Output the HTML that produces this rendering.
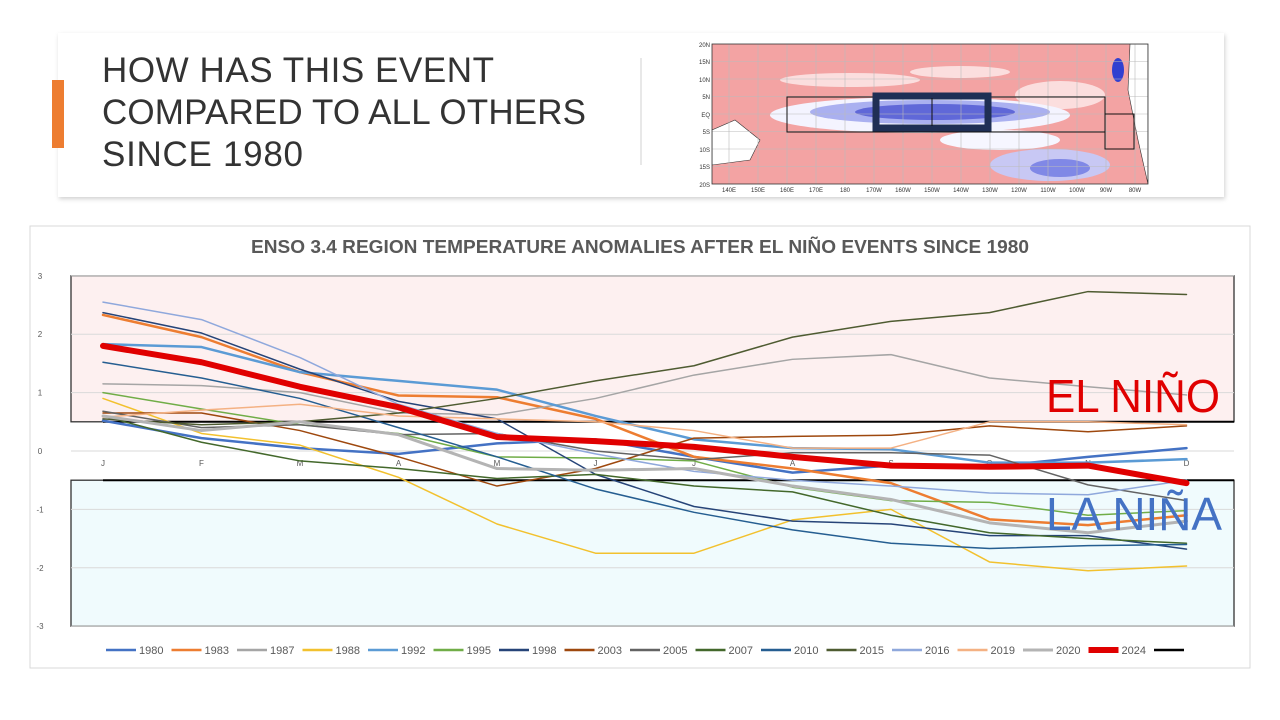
<!DOCTYPE html>
<html><head><meta charset="utf-8">
<style>
html,body{margin:0;padding:0;background:#fff;width:1280px;height:720px;overflow:hidden;font-family:"Liberation Sans",sans-serif}
svg{display:block}
</style></head>
<body>
<svg id="root" width="1280" height="720" viewBox="0 0 1280 720" xmlns="http://www.w3.org/2000/svg">
<defs>
<filter id="sh" x="-5%" y="-10%" width="110%" height="130%"><feDropShadow dx="1" dy="2" stdDeviation="2" flood-color="#000" flood-opacity="0.18"/></filter>
<clipPath id="mapclip"><rect x="712" y="44" width="436" height="140"/></clipPath>
</defs>
<rect x="58" y="33" width="1166" height="164" fill="#fff" filter="url(#sh)"/>
<rect x="52" y="80" width="12" height="68" fill="#ed7d31"/>
<g font-size="35" fill="#333" font-family="Liberation Sans, sans-serif" textLength="480">
<text x="102" y="82" textLength="392">HOW HAS THIS EVENT</text>
<text x="102" y="124" textLength="484">COMPARED TO ALL OTHERS</text>
<text x="102" y="166" textLength="201">SINCE 1980</text>
</g>
<line x1="641" y1="58" x2="641" y2="165" stroke="#d0d0d0"/>
<g id="map">
<rect x="712" y="44" width="436" height="140" fill="#f3a3a3"/>
<g clip-path="url(#mapclip)">
<ellipse cx="850" cy="80" rx="70" ry="7" fill="#fbdede"/>
<ellipse cx="960" cy="72" rx="50" ry="6" fill="#fbdede"/>
<ellipse cx="1060" cy="95" rx="45" ry="14" fill="#fbdede"/>
<ellipse cx="920" cy="115" rx="150" ry="18" fill="#f4f4ff"/>
<ellipse cx="930" cy="112" rx="120" ry="12" fill="#aab0f0"/>
<ellipse cx="935" cy="112" rx="80" ry="8" fill="#6068d8"/>
<ellipse cx="1050" cy="165" rx="60" ry="16" fill="#c8c8f4"/>
<ellipse cx="1060" cy="168" rx="30" ry="9" fill="#8088e6"/>
<ellipse cx="1000" cy="140" rx="60" ry="10" fill="#f6f6ff"/>
<ellipse cx="1118" cy="70" rx="6" ry="12" fill="#3040d0"/>
<path d="M712 130 L735 120 L760 140 L750 160 L712 165Z" fill="#fff" stroke="#333" stroke-width="0.6"/>
<path d="M1130 44 L1148 44 L1148 184 L1138 140 L1128 90Z" fill="#fff" stroke="#333" stroke-width="0.6"/>
</g>
<g stroke="#bbb" stroke-width="0.6">
<line x1="712" y1="61.5" x2="1148" y2="61.5"/><line x1="712" y1="79" x2="1148" y2="79"/><line x1="712" y1="96.5" x2="1148" y2="96.5"/><line x1="712" y1="114" x2="1148" y2="114"/><line x1="712" y1="131.5" x2="1148" y2="131.5"/><line x1="712" y1="149" x2="1148" y2="149"/><line x1="712" y1="166.5" x2="1148" y2="166.5"/>
<line x1="729" y1="44" x2="729" y2="184"/><line x1="758" y1="44" x2="758" y2="184"/><line x1="787" y1="44" x2="787" y2="184"/><line x1="816" y1="44" x2="816" y2="184"/><line x1="845" y1="44" x2="845" y2="184"/><line x1="874" y1="44" x2="874" y2="184"/><line x1="903" y1="44" x2="903" y2="184"/><line x1="932" y1="44" x2="932" y2="184"/><line x1="961" y1="44" x2="961" y2="184"/><line x1="990" y1="44" x2="990" y2="184"/><line x1="1019" y1="44" x2="1019" y2="184"/><line x1="1048" y1="44" x2="1048" y2="184"/><line x1="1077" y1="44" x2="1077" y2="184"/><line x1="1106" y1="44" x2="1106" y2="184"/><line x1="1135" y1="44" x2="1135" y2="184"/>
</g>
<rect x="712" y="44" width="436" height="140" fill="none" stroke="#333" stroke-width="0.8"/>
<rect x="787" y="97" width="318" height="35" fill="none" stroke="#111" stroke-width="1"/>
<rect x="1105" y="114" width="29" height="35" fill="none" stroke="#111" stroke-width="1"/>
<rect x="876" y="96" width="112" height="32" fill="none" stroke="#1f2f55" stroke-width="7"/>
<line x1="932" y1="98" x2="932" y2="126" stroke="#111"/>
<g font-size="6" fill="#333" text-anchor="end">
<text x="710" y="47">20N</text><text x="710" y="64">15N</text><text x="710" y="82">10N</text><text x="710" y="99">5N</text><text x="710" y="117">EQ</text><text x="710" y="134">5S</text><text x="710" y="152">10S</text><text x="710" y="169">15S</text><text x="710" y="187">20S</text>
</g>
<g font-size="6" fill="#333" text-anchor="middle">
<text x="729" y="192">140E</text><text x="758" y="192">150E</text><text x="787" y="192">160E</text><text x="816" y="192">170E</text><text x="845" y="192">180</text><text x="874" y="192">170W</text><text x="903" y="192">160W</text><text x="932" y="192">150W</text><text x="961" y="192">140W</text><text x="990" y="192">130W</text><text x="1019" y="192">120W</text><text x="1048" y="192">110W</text><text x="1077" y="192">100W</text><text x="1106" y="192">90W</text><text x="1135" y="192">80W</text>
</g>
</g>

<rect x="30" y="226" width="1220" height="442" fill="#fff" stroke="#d9d9d9"/>
<text x="640" y="253" text-anchor="middle" font-size="18" font-weight="bold" fill="#595959" textLength="778" lengthAdjust="spacingAndGlyphs">ENSO 3.4 REGION TEMPERATURE ANOMALIES AFTER EL NIÑO EVENTS SINCE 1980</text>
<g id="chart"></g>
</svg>
<script>
const months = ["J","F","M","A","M","J","J","A","S","O","N","D"];
const yTicks = [3,2,1,0,-1,-2,-3];
const seriesNames = ["1980","1983","1987","1988","1992","1995","1998","2003","2005","2007","2010","2015","2016","2019","2020","2024"];
const seriesColors = ["#4472c4","#ed7d31","#a5a5a5","#f2c12e","#5b9bd5","#70ad47","#264478","#9e480e","#636363","#43682b","#255e91","#4e5b31","#8fa8dc","#f4b183","#b4b4b4","#e00000"];
const seriesWidths = [2.5,2.5,1.5,1.5,2.5,1.5,1.5,1.5,1.5,1.5,1.5,1.5,1.5,1.5,3,6];
const v1980 = [0.52,0.22,0.05,-0.05,0.13,0.2,-0.1,-0.37,-0.25,-0.27,-0.1,0.05];
const v1983 = [2.33,1.95,1.35,0.95,0.92,0.55,-0.1,-0.3,-0.55,-1.17,-1.27,-1.1];
const v1987 = [1.15,1.12,1.0,0.65,0.62,0.9,1.3,1.57,1.65,1.25,1.1,0.96];
const v1988 = [0.9,0.3,0.1,-0.45,-1.25,-1.75,-1.75,-1.18,-1.0,-1.9,-2.05,-1.97];
const v1992 = [1.83,1.78,1.35,1.2,1.05,0.6,0.2,0.05,0.03,-0.2,-0.2,-0.14];
const v1995 = [1.0,0.72,0.45,0.3,-0.1,-0.12,-0.17,-0.62,-0.85,-0.88,-1.1,-1.02];
const v1998 = [2.37,2.02,1.4,0.85,0.55,-0.4,-0.95,-1.2,-1.25,-1.45,-1.45,-1.68];
const v2003 = [0.65,0.65,0.35,-0.1,-0.6,-0.3,0.22,0.25,0.27,0.43,0.33,0.43];
const v2005 = [0.68,0.4,0.45,0.28,0.3,0.0,-0.15,-0.03,-0.03,-0.07,-0.58,-0.85];
const v2007 = [0.6,0.15,-0.17,-0.3,-0.47,-0.4,-0.6,-0.7,-1.1,-1.4,-1.5,-1.58];
const v2010 = [1.52,1.25,0.9,0.4,-0.1,-0.65,-1.05,-1.35,-1.58,-1.67,-1.62,-1.6];
const v2015 = [0.55,0.45,0.5,0.65,0.9,1.2,1.46,1.95,2.22,2.37,2.73,2.68];
const v2016 = [2.55,2.25,1.6,0.8,0.3,-0.05,-0.35,-0.5,-0.6,-0.72,-0.75,-0.5];
const v2019 = [0.58,0.7,0.8,0.6,0.55,0.5,0.35,0.05,0.05,0.5,0.5,0.45];
const v2020 = [0.6,0.35,0.5,0.28,-0.3,-0.33,-0.3,-0.6,-0.83,-1.23,-1.4,-1.2];
const v2024 = [1.8,1.52,1.1,0.75,0.24,0.17,0.07,-0.1,-0.25,-0.27,-0.25,-0.55];
const seriesValues = [v1980,v1983,v1987,v1988,v1992,v1995,v1998,v2003,v2005,v2007,v2010,v2015,v2016,v2019,v2020,v2024];
const ninoThreshold = 0.5;
const ninaThreshold = -0.5;

const NS = "http://www.w3.org/2000/svg";
const g = document.getElementById("chart");
const x0 = 103, xStep = 98.5, yZero = 451, yUnit = 58.4;
const xs = i => x0 + i * xStep;
const ys = v => yZero - v * yUnit;
function mk(tag, attrs, parent) {
  const e = document.createElementNS(NS, tag);
  for (const k in attrs) e.setAttribute(k, attrs[k]);
  (parent || g).appendChild(e);
  return e;
}
let r = mk("rect", {x:71, y:ys(3), width:1163, height:ys(ninoThreshold)-ys(3), fill:"#fdf0f0", stroke:"#333", "stroke-width":1.3});


r = mk("rect", {x:71, y:ys(ninaThreshold), width:1163, height:ys(-3)-ys(ninaThreshold), fill:"#f0fbfd", stroke:"#333", "stroke-width":1.3});


yTicks.forEach(t => {
  const l = mk("line", {x1:71, x2:1234, y1:ys(t), y2:ys(t), stroke:"#dadada", "stroke-width":1});
  
  
  const tx = mk("text", {x:40, y:ys(t)+3, "font-size":8, fill:"#595959", "text-anchor":"middle"});
  tx.textContent = t;
  
  
});
let tl = mk("line", {x1:xs(0), x2:1234, y1:ys(ninoThreshold), y2:ys(ninoThreshold), stroke:"#000", "stroke-width":2});


tl = mk("line", {x1:xs(0), x2:1234, y1:ys(ninaThreshold), y2:ys(ninaThreshold), stroke:"#000", "stroke-width":2});


months.forEach((m,i) => {
  const tx = mk("text", {x:xs(i), y:ys(0)+15, "font-size":8, fill:"#595959", "text-anchor":"middle"});
  tx.textContent = m;
  
  
});
seriesValues.forEach((vals, si) => {
  const p = mk("polyline", {points: vals.map((v,i)=>xs(i)+","+ys(v)).join(" "), fill:"none", stroke:seriesColors[si], "stroke-width":seriesWidths[si], "stroke-linejoin":"round", "stroke-linecap":"round"});
  
  
});
let a = mk("text", {x:1046, y:412, "font-size":46, fill:"#e00000", textLength:174, lengthAdjust:"spacingAndGlyphs"});
a.textContent = "EL NIÑO";


a = mk("text", {x:1046, y:530, "font-size":46, fill:"#4472c4", textLength:176, lengthAdjust:"spacingAndGlyphs"});
a.textContent = "LA NIÑA";


const legNames = seriesNames.concat([""]);
const legColors = seriesColors.concat(["#000"]);
const legWidths = seriesWidths.map(w => Math.max(2.5, Math.min(w, 6))).concat([2.5]);
const legStep = 65.5;
legNames.forEach((n, i) => {
  const lx = 106 + i * legStep;
  const gg = mk("g", {});
  
  
  mk("line", {x1:lx, x2:lx+30, y1:650, y2:650, stroke:legColors[i], "stroke-width":legWidths[i]}, gg);
  const t = mk("text", {x:lx+33, y:654, "font-size":11, fill:"#595959"}, gg);
  t.textContent = n;
});
</script>
</body></html>
